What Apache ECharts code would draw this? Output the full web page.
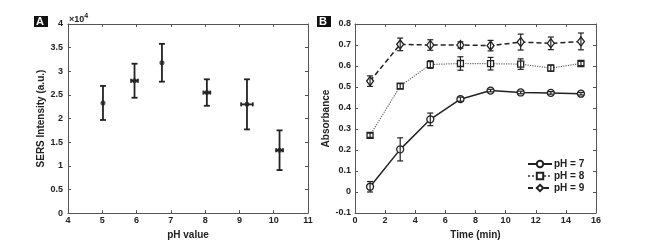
<!DOCTYPE html>
<html>
<head>
<meta charset="utf-8">
<script src="https://cdn.jsdelivr.net/npm/echarts@6/dist/echarts.min.js"></script>
<style>
  html, body { margin: 0; padding: 0; background: #fff; }
  #chart { width: 648px; height: 245px; }
</style>
</head>
<body>
<div id="chart"></div>
<script>
// panel A: SERS intensity (x10^4) vs pH
const phValues = [5.02, 5.94, 6.74, 8.05, 9.22, 10.17]
const phErr = [0, 0.1, 0, 0.1, 0.17, 0.1]
const sersIntensity = [2.33, 2.8, 3.18, 2.55, 2.3, 1.33]
const sersErr = [0.36, 0.36, 0.4, 0.28, 0.53, 0.42]

// panel B: absorbance vs time
const timeMin = [1, 3, 5, 7, 9, 11, 13, 15]
const absPh7 = [0.025, 0.203, 0.346, 0.442, 0.483, 0.474, 0.472, 0.468]
const errPh7 = [0.025, 0.055, 0.03, 0.01, 0.006, 0.006, 0.006, 0.006]
const absPh8 = [0.27, 0.504, 0.607, 0.612, 0.611, 0.609, 0.59, 0.612]
const errPh8 = [0.01, 0.012, 0.018, 0.032, 0.03, 0.025, 0.015, 0.01]
const absPh9 = [0.528, 0.703, 0.70, 0.70, 0.697, 0.714, 0.708, 0.717]
const errPh9 = [0.025, 0.03, 0.025, 0.015, 0.025, 0.038, 0.03, 0.04]

const ink = '#222'
const axisGray = '#555'
const font = 'Liberation Sans, Arial, sans-serif'

const chart = echarts.init(document.getElementById('chart'))

function errorBars(capHalf, width) {
  return (params, api) => {
    const x = api.value(0)
    const y = api.value(1)
    const ey = api.value(2)
    const ex = api.value(3) || 0
    const style = { stroke: ink, lineWidth: width }
    const top = api.coord([x, y + ey])
    const bot = api.coord([x, y - ey])
    const kids = [
      { type: 'line', shape: { x1: top[0], y1: top[1], x2: bot[0], y2: bot[1] }, style },
      { type: 'line', shape: { x1: top[0] - capHalf, y1: top[1], x2: top[0] + capHalf, y2: top[1] }, style },
      { type: 'line', shape: { x1: bot[0] - capHalf, y1: bot[1], x2: bot[0] + capHalf, y2: bot[1] }, style }
    ]
    if (ex > 0) {
      const l = api.coord([x - ex, y])
      const r = api.coord([x + ex, y])
      kids.push({ type: 'line', shape: { x1: l[0], y1: l[1], x2: r[0], y2: r[1] }, style })
      kids.push({ type: 'line', shape: { x1: l[0], y1: l[1] - 2, x2: l[0], y2: l[1] + 2 }, style })
      kids.push({ type: 'line', shape: { x1: r[0], y1: r[1] - 2, x2: r[0], y2: r[1] + 2 }, style })
    }
    return { type: 'group', children: kids }
  }
}

const tickLabel = { color: ink, fontSize: 9, fontWeight: 'bold', fontFamily: font }
const nameStyle = { color: ink, fontSize: 10, fontWeight: 'bold', fontFamily: font }

function mainAxis(gridIndex, extra) {
  return Object.assign({
    gridIndex,
    type: 'value',
    axisLine: { show: true, onZero: false, lineStyle: { color: axisGray, width: 1 } },
    axisTick: { show: true, inside: true, length: 3, lineStyle: { color: axisGray } },
    axisLabel: tickLabel,
    splitLine: { show: false },
    nameLocation: 'middle',
    nameTextStyle: nameStyle
  }, extra)
}

// top / right copies of the axes so the box gets its inner ticks too
function mirrorAxis(gridIndex, position, min, max, interval) {
  return {
    gridIndex, type: 'value', position, min, max, interval,
    axisLine: { show: true, onZero: false, lineStyle: { color: axisGray, width: 1 } },
    axisTick: { show: true, inside: true, length: 3, lineStyle: { color: axisGray } },
    axisLabel: { show: false },
    splitLine: { show: false }
  }
}

const option = {
  animation: false,
  grid: [
    { left: 68, top: 24, width: 240, height: 190 },
    { left: 355, top: 24, width: 241, height: 189 }
  ],
  xAxis: [
    mainAxis(0, { min: 4, max: 11, interval: 1, name: 'pH value', nameGap: 11, axisLabel: Object.assign({ margin: 3 }, tickLabel) }),
    mirrorAxis(0, 'top', 4, 11, 1),
    mainAxis(1, { min: 0, max: 16, interval: 2, name: 'Time (min)', nameGap: 11, axisLabel: Object.assign({ margin: 3 }, tickLabel) }),
    mirrorAxis(1, 'top', 0, 16, 2)
  ],
  yAxis: [
    mainAxis(0, { min: 0, max: 4, interval: 0.5, name: 'SERS Intensity (a.u.)', nameGap: 20, axisLabel: Object.assign({ margin: 5 }, tickLabel) }),
    mirrorAxis(0, 'right', 0, 4, 0.5),
    mainAxis(1, { min: -0.1, max: 0.8, interval: 0.1, name: 'Absorbance', nameGap: 20, axisLabel: Object.assign({ margin: 4 }, tickLabel) }),
    mirrorAxis(1, 'right', -0.1, 0.8, 0.1)
  ],
  legend: {
    data: ['pH = 7', 'pH = 8', 'pH = 9'],
    orient: 'vertical',
    left: 522,
    top: 154,
    itemWidth: 24,
    itemHeight: 8,
    itemGap: 2,
    textStyle: { color: ink, fontSize: 10, fontWeight: 'bold', fontFamily: font, padding: [0, 0, 0, -3] }
  },
  graphic: [
    { type: 'rect', left: 34, top: 16, shape: { width: 14, height: 11 }, style: { fill: '#111' } },
    { type: 'text', left: 36, top: 16, style: { text: 'A', fill: '#fff', font: 'bold 11px ' + font } },
    { type: 'rect', left: 317, top: 16, shape: { width: 14, height: 11 }, style: { fill: '#111' } },
    { type: 'text', left: 319, top: 16, style: { text: 'B', fill: '#fff', font: 'bold 11px ' + font } },
    {
      type: 'text', left: 69, top: 13,
      style: {
        text: '×10{s|4}',
        fill: ink,
        font: 'bold 9px ' + font,
        rich: { s: { fontSize: 7, fontWeight: 'bold', verticalAlign: 'top', padding: [0, 0, 6, 0] } }
      }
    }
  ],
  series: [
    {
      type: 'scatter',
      xAxisIndex: 0, yAxisIndex: 0,
      data: phValues.map((x, i) => [x, sersIntensity[i]]),
      symbolSize: 5,
      itemStyle: { color: ink },
      z: 3
    },
    {
      type: 'custom',
      xAxisIndex: 0, yAxisIndex: 0,
      renderItem: errorBars(3, 1.8),
      data: phValues.map((x, i) => [x, sersIntensity[i], sersErr[i], phErr[i]]),
      z: 4
    },
    {
      name: 'pH = 7',
      type: 'line',
      xAxisIndex: 2, yAxisIndex: 2,
      data: timeMin.map((t, i) => [t, absPh7[i]]),
      symbol: 'circle',
      symbolSize: 7,
      lineStyle: { color: ink, width: 1.5, type: 'solid' },
      itemStyle: { color: '#fff', borderColor: ink, borderWidth: 1.3 },
      z: 3
    },
    {
      name: 'pH = 8',
      type: 'line',
      xAxisIndex: 2, yAxisIndex: 2,
      data: timeMin.map((t, i) => [t, absPh8[i]]),
      symbol: 'rect',
      symbolSize: 6,
      lineStyle: { color: '#666', width: 1.2, type: 'dotted' },
      itemStyle: { color: '#fff', borderColor: ink, borderWidth: 1.3 },
      z: 3
    },
    {
      name: 'pH = 9',
      type: 'line',
      xAxisIndex: 2, yAxisIndex: 2,
      data: timeMin.map((t, i) => [t, absPh9[i]]),
      symbol: 'diamond',
      symbolSize: [7, 9],
      lineStyle: { color: ink, width: 1.5, type: [5, 3] },
      itemStyle: { color: '#fff', borderColor: ink, borderWidth: 1.3 },
      z: 3
    },
    {
      type: 'custom',
      xAxisIndex: 2, yAxisIndex: 2,
      renderItem: errorBars(3, 1.2),
      data: timeMin.map((t, i) => [t, absPh7[i], errPh7[i]]),
      z: 4
    },
    {
      type: 'custom',
      xAxisIndex: 2, yAxisIndex: 2,
      renderItem: errorBars(3, 1.2),
      data: timeMin.map((t, i) => [t, absPh8[i], errPh8[i]]),
      z: 4
    },
    {
      type: 'custom',
      xAxisIndex: 2, yAxisIndex: 2,
      renderItem: errorBars(3, 1.2),
      data: timeMin.map((t, i) => [t, absPh9[i], errPh9[i]]),
      z: 4
    }
  ]
}

chart.setOption(option)
</script>
</body>
</html>
